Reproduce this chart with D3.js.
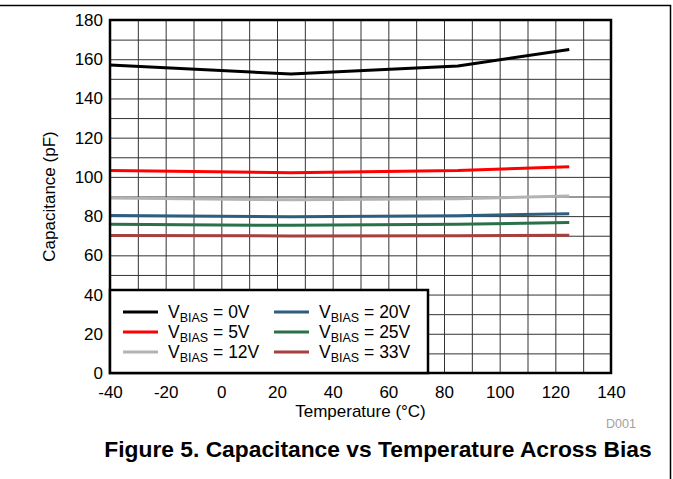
<!DOCTYPE html>
<html>
<head>
<meta charset="utf-8">
<script src="https://cdn.jsdelivr.net/npm/d3@7"></script>
<style>
  body { margin: 0; background: #fff; }
  text { font-family: "Liberation Sans", Arial, sans-serif; }
</style>
</head>
<body>
<svg id="chart"></svg>
<script>
// data
const temps = [-40, 25, 85, 125];
const biasLabels = ['0V', '5V', '12V', '20V', '25V', '33V'];
const cap0V = [157, 152.5, 156.5, 165];
const cap5V = [103.2, 102.1, 103.2, 105.2];
const cap12V = [89.2, 88.3, 88.8, 90.3];
const cap20V = [80.3, 79.7, 80.2, 81.2];
const cap25V = [75.8, 75.3, 75.8, 76.7];
const cap33V = [70.1, 69.9, 70, 70.3];
const seriesColors = ['#000000', '#ff0000', '#b3b3b3', '#2d5e7e', '#2a7049', '#a5403f'];
const xTicks = [-40, -20, 0, 20, 40, 60, 80, 100, 120, 140];
const yTicks = [0, 20, 40, 60, 80, 100, 120, 140, 160, 180];

const series = [cap0V, cap5V, cap12V, cap20V, cap25V, cap33V].map((vals, i) => ({
  name: biasLabels[i],
  color: seriesColors[i],
  values: vals.map((v, j) => ({ t: temps[j], c: v }))
}));

const W = 673, H = 479;
const plotL = 110, plotR = 611, plotT = 20, plotB = 373;

const svg = d3.select('#chart')
  .attr('width', W)
  .attr('height', H);

// page frame (top + right edge)
svg.append('path')
  .attr('d', `M0,5.5 H670.5 V${H}`)
  .attr('fill', 'none')
  .attr('stroke', '#000')
  .attr('stroke-width', 1.5);

const x = d3.scaleLinear().domain([-40, 140]).range([plotL, plotR]);
const y = d3.scaleLinear().domain([0, 180]).range([plotB, plotT]);

// grid every 10
svg.append('g')
  .attr('transform', `translate(0,${plotB})`)
  .call(d3.axisBottom(x).tickValues(d3.range(-30, 140, 10)).tickSize(-(plotB - plotT)).tickFormat(''))
  .call(g => g.select('.domain').remove())
  .call(g => g.selectAll('line').attr('stroke', '#333').attr('stroke-width', 1));

svg.append('g')
  .attr('transform', `translate(${plotL},0)`)
  .call(d3.axisLeft(y).tickValues(d3.range(10, 180, 10)).tickSize(-(plotR - plotL)).tickFormat(''))
  .call(g => g.select('.domain').remove())
  .call(g => g.selectAll('line').attr('stroke', '#333').attr('stroke-width', 1));

// tick labels (plain hyphen for negatives, like the original)
svg.append('g')
  .attr('transform', `translate(0,${plotB})`)
  .call(d3.axisBottom(x).tickValues(xTicks).tickSize(0).tickPadding(13).tickFormat(d => String(d)))
  .call(g => g.select('.domain').remove())
  .call(g => g.selectAll('text').attr('font-size', 17).attr('fill', '#000'));

svg.append('g')
  .attr('transform', `translate(${plotL},0)`)
  .call(d3.axisLeft(y).tickValues(yTicks).tickSize(0).tickPadding(7).tickFormat(d => String(d)))
  .call(g => g.select('.domain').remove())
  .call(g => g.selectAll('text').attr('font-size', 17).attr('fill', '#000'));

// lines
const line = d3.line()
  .x(d => x(d.t))
  .y(d => y(d.c));

svg.selectAll('.series')
  .data(series)
  .enter()
  .append('path')
  .attr('class', 'series')
  .attr('d', d => line(d.values))
  .attr('fill', 'none')
  .attr('stroke', d => d.color)
  .attr('stroke-width', 3);

// plot border
svg.append('rect')
  .attr('x', plotL)
  .attr('y', plotT)
  .attr('width', plotR - plotL)
  .attr('height', plotB - plotT)
  .attr('fill', 'none')
  .attr('stroke', '#000')
  .attr('stroke-width', 2.5);

// legend
const lg = svg.append('g');
lg.append('rect')
  .attr('x', plotL)
  .attr('y', 290)
  .attr('width', 318)
  .attr('height', plotB - 290)
  .attr('fill', '#fff')
  .attr('stroke', '#000')
  .attr('stroke-width', 2.5);

const items = lg.selectAll('.item')
  .data(series)
  .enter()
  .append('g')
  .attr('class', 'item')
  .attr('transform', (d, i) => `translate(${i < 3 ? 123 : 274},${312 + (i % 3) * 20})`);

items.append('line')
  .attr('x1', 0).attr('x2', 35)
  .attr('stroke', d => d.color)
  .attr('stroke-width', 3);

const lt = items.append('text')
  .attr('x', 45)
  .attr('y', 6)
  .attr('font-size', 17.5);
lt.append('tspan').text('V');
lt.append('tspan').attr('font-size', 12.5).attr('dy', 4).text('BIAS');
lt.append('tspan').attr('dy', -4).text(d => ` = ${d.name}`);

// axis titles
svg.append('text')
  .attr('transform', `translate(55,${(plotT + plotB) / 2}) rotate(-90)`)
  .attr('text-anchor', 'middle')
  .attr('font-size', 17)
  .text('Capacitance (pF)');

svg.append('text')
  .attr('x', (plotL + plotR) / 2)
  .attr('y', 417)
  .attr('text-anchor', 'middle')
  .attr('font-size', 17)
  .text('Temperature (°C)');

svg.append('text')
  .attr('x', 606)
  .attr('y', 428)
  .attr('font-size', 12.5)
  .attr('fill', '#a0a0a0')
  .text('D001');

svg.append('text')
  .attr('x', 378)
  .attr('y', 457)
  .attr('text-anchor', 'middle')
  .attr('font-size', 22.8)
  .attr('font-weight', 'bold')
  .text('Figure 5. Capacitance vs Temperature Across Bias');
</script>
</body>
</html>
